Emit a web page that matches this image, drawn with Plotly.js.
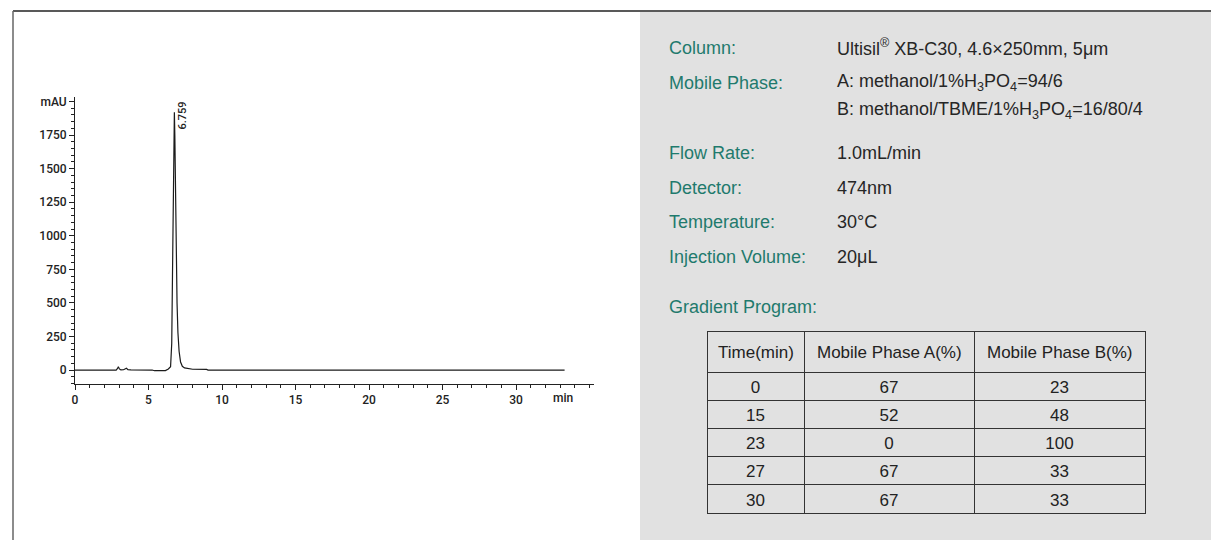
<!DOCTYPE html>
<html>
<head>
<meta charset="utf-8">
<script src="https://cdn.plot.ly/plotly-3.0.1.min.js"></script>
<style>
  html, body { margin: 0; padding: 0; background: #ffffff; }
  #chart { width: 1211px; height: 540px; }
</style>
</head>
<body>
<div id="chart"></div>
<script>
// ---- Chromatogram ----
const retentionTime = [0, 2.8, 2.88, 2.95, 3.02, 3.12, 3.3, 3.42, 3.5, 3.6, 3.8, 5.25, 5.4, 6.15, 6.35, 6.5, 6.58, 6.63, 6.68, 6.72, 6.759, 6.79, 6.83, 6.88, 6.94, 7.0, 7.08, 7.18, 7.3, 7.45, 7.7, 8.0, 8.95, 9.05, 33.3];
const absorbance    = [0, 0, 10, 24, 8, 1, 2, 12, 13, 3, 1, 0, -5, -4, 8, 25, 200, 700, 1400, 1820, 1920, 1750, 1300, 850, 500, 280, 140, 60, 28, 16, 10, 6, 5, 0, 0];

const peakTime = 6.759;
const peakHeight = 1920;
const peakLabel = "6.759";

// ---- Axis ticks ----
const xTickVals = [0, 5, 10, 15, 20, 25, 30];
const xTickText = ["0", "5", "10", "15", "20", "25", "30"];
const xUnitLabel = "min";
const yTickVals = [0, 250, 500, 750, 1000, 1250, 1500, 1750, 2000];
const yTickText = ["0", "250", "500", "750", "1000", "1250", "1500", "1750", "mAU"];

// ---- Conditions ----
const conditionLabels = ["Column:", "Mobile Phase:", "", "Flow Rate:", "Detector:", "Temperature:", "Injection Volume:"];
const conditionValues = [
  "Ultisil<sup>®</sup> XB-C30, 4.6×250mm, 5μm",
  "A: methanol/1%H<sub>3</sub>PO<sub>4</sub>=94/6",
  "B: methanol/TBME/1%H<sub>3</sub>PO<sub>4</sub>=16/80/4",
  "1.0mL/min",
  "474nm",
  "30°C",
  "20μL"
];
const gradientTitle = "Gradient Program:";

// ---- Gradient table ----
const gradientHeader = ["Time(min)", "Mobile Phase A(%)", "Mobile Phase B(%)"];
const gradientTime = ["0", "15", "23", "27", "30"];
const phaseA = ["67", "52", "0", "67", "67"];
const phaseB = ["23", "48", "100", "33", "33"];

// ---- Layout geometry (pixels) ----
const W = 1211, H = 540;
const px = v => v / W;
const py = v => 1 - v / H;

const labelY = [47.5, 82.5, 111, 153.5, 187.5, 221.5, 256.5];
const teal = "#1f7a6d";
const valueColor = "#262626";
const panelFont = "Liberation Sans, Arial, sans-serif";
const tickFont = { family: "Roboto, sans-serif", size: 12, color: "#222", weight: 500 };

const annotations = [];
conditionLabels.forEach((t, i) => {
  if (t) annotations.push({
    xref: "paper", yref: "paper", x: px(666.5), y: py(labelY[i]),
    xanchor: "left", yanchor: "middle", showarrow: false,
    text: t, font: { family: panelFont, size: 18, color: teal }
  });
});
conditionValues.forEach((t, i) => {
  annotations.push({
    xref: "paper", yref: "paper", x: px(834.5), y: py(labelY[i]),
    xanchor: "left", yanchor: "middle", showarrow: false,
    text: t, font: { family: panelFont, size: 18, color: valueColor }
  });
});
annotations.push({
  xref: "paper", yref: "paper", x: px(666.5), y: py(307),
  xanchor: "left", yanchor: "middle", showarrow: false,
  text: gradientTitle, font: { family: panelFont, size: 18, color: teal }
});
// table header labels, centred vertically in the header row
const headerCenters = [755.5, 889, 1059.5];
gradientHeader.forEach((h, i) => {
  annotations.push({
    xref: "paper", yref: "paper", x: px(headerCenters[i]), y: py(352.5),
    xanchor: "center", yanchor: "middle", showarrow: false,
    text: h, font: { family: panelFont, size: 17, color: "#222" }
  });
});
// peak label
annotations.push({
  xref: "x", yref: "y", x: peakTime, y: peakHeight,
  xanchor: "center", yanchor: "middle", showarrow: false,
  textangle: -90, xshift: 8.5, yshift: -3.5,
  text: peakLabel, font: { family: "Roboto, sans-serif", size: 11, color: "#222", weight: 500 }
});
// x unit label
annotations.push({
  xref: "x", yref: "paper", x: 33.2, y: py(398),
  xanchor: "center", yanchor: "middle", showarrow: false,
  text: xUnitLabel, font: tickFont
});

const traces = [
  {
    type: "scatter", mode: "lines",
    x: retentionTime, y: absorbance,
    line: { color: "#1a1a1a", width: 1.2 },
    hoverinfo: "skip", showlegend: false,
    xaxis: "x", yaxis: "y"
  },
  {
    type: "table",
    domain: { x: [px(707), px(1145)], y: [py(520), py(331)] },
    columnwidth: [97, 170, 171],
    header: {
      values: gradientHeader.map(() => [""]),
      height: 41,
      align: "center",
      fill: { color: "#e1e1e1" },
      line: { color: "#333333", width: 1 },
      font: { family: panelFont, size: 17, color: "#222" }
    },
    cells: {
      values: [gradientTime, phaseA, phaseB],
      height: 28.2,
      align: "center",
      fill: { color: "#e1e1e1" },
      line: { color: "#333333", width: 1 },
      font: { family: panelFont, size: 17, color: "#222" }
    }
  }
];

const layout = {
  width: W, height: H,
  margin: { l: 0, r: 0, t: 0, b: 0, pad: 0 },
  paper_bgcolor: "#ffffff",
  plot_bgcolor: "rgba(0,0,0,0)",
  showlegend: false,
  xaxis: {
    domain: [px(75), px(594)],
    range: [0, 35.3],
    tickmode: "array", tickvals: xTickVals, ticktext: xTickText,
    ticks: "outside", ticklen: 5, tickwidth: 1, tickcolor: "#222",
    minor: { dtick: 1, tick0: 0, ticks: "outside", ticklen: 3, tickwidth: 1, tickcolor: "#222", showgrid: false },
    showline: true, linecolor: "#222", linewidth: 1,
    showgrid: false, zeroline: false,
    tickfont: tickFont,
    anchor: "y", fixedrange: true
  },
  yaxis: {
    domain: [py(384), py(97)],
    range: [-104, 2033],
    tickmode: "array", tickvals: yTickVals, ticktext: yTickText,
    ticks: "outside", ticklen: 5, tickwidth: 1, tickcolor: "#222",
    minor: { dtick: 50, tick0: 0, ticks: "outside", ticklen: 3, tickwidth: 1, tickcolor: "#222", showgrid: false },
    showline: true, linecolor: "#222", linewidth: 1,
    showgrid: false, zeroline: false,
    tickfont: tickFont,
    anchor: "x", fixedrange: true
  },
  shapes: [
    { type: "rect", xref: "paper", yref: "paper", x0: px(640), x1: 1, y0: 0, y1: py(12),
      fillcolor: "#e1e1e1", line: { width: 0 }, layer: "below" },
    { type: "line", xref: "paper", yref: "paper", x0: px(13), x1: 1, y0: py(11), y1: py(11),
      line: { color: "#222", width: 1.5 } },
    { type: "line", xref: "paper", yref: "paper", x0: px(13), x1: px(13), y0: 0, y1: py(11),
      line: { color: "#666", width: 1.5 } }
  ],
  annotations: annotations
};

Plotly.newPlot("chart", traces, layout, { displayModeBar: false, staticPlot: true });
</script>
</body>
</html>
